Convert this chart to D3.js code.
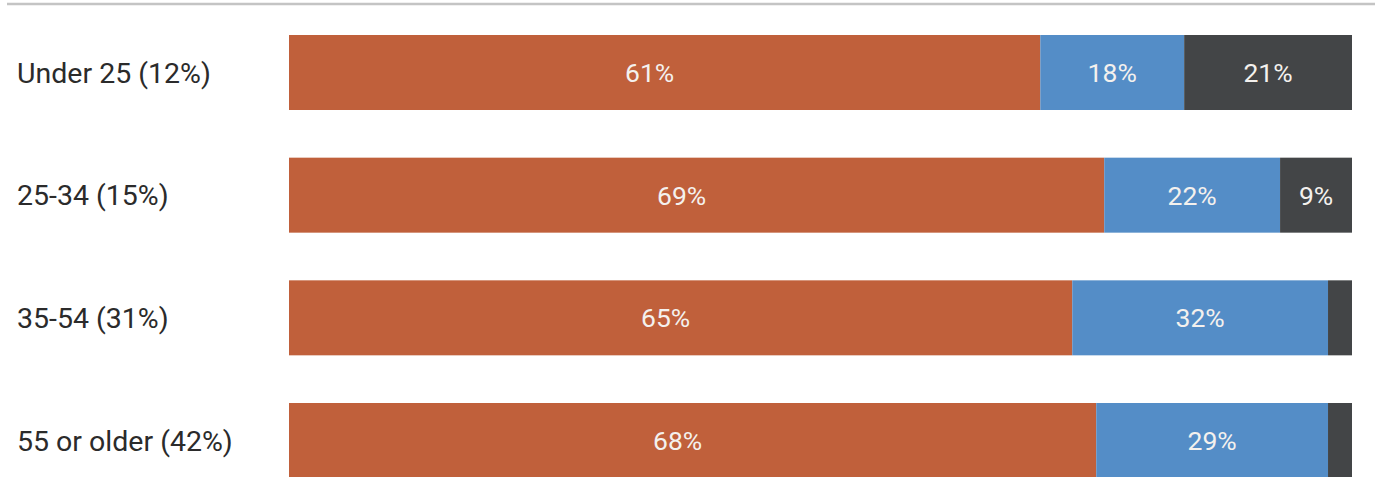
<!DOCTYPE html>
<html>
<head>
<meta charset="utf-8">
<script src="https://cdn.jsdelivr.net/npm/d3@7"></script>
<style>
  html, body { margin: 0; padding: 0; background: #fff; }
  svg { display: block; font-family: Roboto, "Noto Sans", sans-serif; }
</style>
</head>
<body>
<svg id="chart" width="1375" height="477"></svg>
<script>
const categories = ["Under 25 (12%)", "25-34 (15%)", "35-54 (31%)", "55 or older (42%)"];
const seriesNames = ["first", "second", "third"];
const firstValues = [61, 69, 65, 68];
const secondValues = [18, 22, 32, 29];
const thirdValues = [21, 9, 3, 3];
const valueLabels = [["61%", "18%", "21%"], ["69%", "22%", "9%"], ["65%", "32%", ""], ["68%", "29%", ""]];
const colors = ["#c0603b", "#548dc7", "#434547"];

const svg = d3.select("#chart");

const table = categories.map((c, i) => ({
  cat: c, first: firstValues[i], second: secondValues[i], third: thirdValues[i], idx: i
}));
const stack = d3.stack().keys(seriesNames);
const layers = stack(table);

const x = d3.scaleLinear().domain([-33, 100]).range([289, 1352]);
const xStart = -33;
const y = d3.scaleBand().domain(categories).range([35, 478]).paddingInner(0.3886).paddingOuter(0);

// top rule
svg.append("line").attr("x1", 7).attr("x2", 1375).attr("y1", 4).attr("y2", 4)
  .attr("stroke", "#c4c4c4").attr("stroke-width", 2.5);

// row labels
svg.append("g").selectAll("text").data(categories).join("text")
  .attr("x", 17)
  .attr("y", d => y(d) + y.bandwidth() / 2)
  .attr("dy", "0.36em")
  .attr("font-size", 28.5)
  .attr("fill", "#2b2b2b")
  .text(d => d);

layers.forEach((layer, li) => {
  const g = svg.append("g");
  g.selectAll("rect").data(layer).join("rect")
    .attr("x", d => li === 0 ? x(xStart) : x(d[0]))
    .attr("y", d => y(d.data.cat))
    .attr("width", d => x(d[1]) - (li === 0 ? x(xStart) : x(d[0])))
    .attr("height", y.bandwidth())
    .attr("fill", colors[li]);
  g.selectAll("text").data(layer).join("text")
    .attr("x", d => {
      const x0 = li === 0 ? x(xStart) : x(d[0]);
      const c = (x0 + x(d[1])) / 2;
      return li === 0 ? c - 15 : c;
    })
    .attr("y", d => y(d.data.cat) + y.bandwidth() / 2)
    .attr("dy", "0.36em")
    .attr("text-anchor", "middle")
    .attr("font-size", 26.5)
    .attr("fill", "#f4f1ee")
    .text(d => valueLabels[d.data.idx][li]);
});
</script>
</body>
</html>
